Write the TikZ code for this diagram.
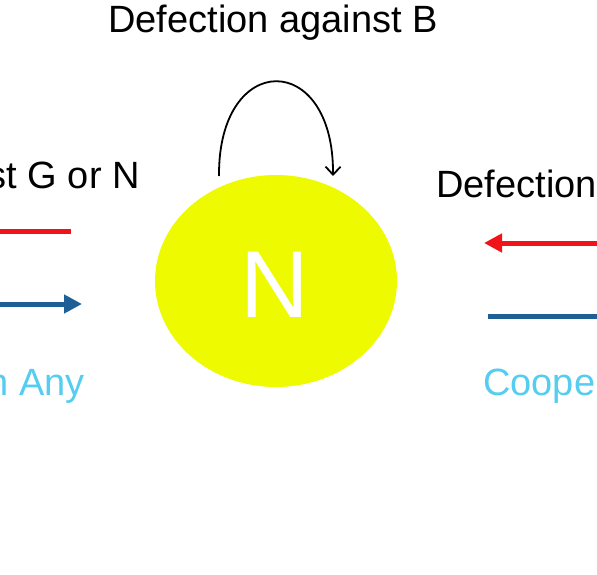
\documentclass[tikz,border=0pt]{standalone}
\usepackage{fontspec}
\setmainfont{Liberation Sans}
\usetikzlibrary{arrows.meta,shapes.geometric}
\definecolor{nyellow}{RGB}{238,250,0}
\definecolor{dred}{RGB}{240,20,25}
\definecolor{cblue}{RGB}{30,95,150}
\definecolor{lcyan}{RGB}{85,205,240}
\begin{document}
\begin{tikzpicture}[x=1pt,y=-1pt,
  lbl/.style={inner sep=0pt,font=\fontsize{38}{44}\selectfont},
  thick5/.style={line width=5pt},
  headtip/.style={-{Triangle[length=18pt,width=18pt]}}]
\useasboundingbox (0,0) rectangle (597,575);
\clip (0,0) rectangle (597,575);
% central node
\node[ellipse,fill=nyellow,minimum width=242pt,minimum height=212pt,inner sep=0pt] (N) at (276,281) {};
\node[inner sep=0pt,text=white,font=\fontsize{95}{100}\selectfont,anchor=base] (Nl) at (275,317) {N};
% top label and loop
\node[lbl,anchor=base west] (top) at (108,33) {Defection against B};
\coordinate (ls) at (219,176);
\coordinate (le) at (333,176);
\draw[line width=1.8pt,-{Straight Barb[length=8pt,width=15pt]}] (ls) .. controls (218,50) and (334,50) .. (le);
% left side
\node[lbl,anchor=base east] (ltext) at (140,188) {Defection against G or N};
\node[lbl,anchor=base east,text=lcyan] (lcoop) at (85,395) {Cooperation with Any};
\coordinate (lr1) at (-10,231);
\coordinate (lr2) at (71,231);
\draw[dred,thick5] (lr1) -- (lr2);
\coordinate (lb1) at (-10,304);
\coordinate (lb2) at (82,304);
\draw[cblue,thick5,headtip] (lb1) -- (lb2);
% right side
\node[lbl,anchor=base west] (rtext) at (436,197) {Defection};
\node[lbl,anchor=base west,text=lcyan] (rcoop) at (483,395) {Cooperation};
\coordinate (rr1) at (610,243);
\coordinate (rr2) at (484,243);
\draw[dred,thick5,headtip] (rr1) -- (rr2);
\coordinate (rb1) at (488,316);
\coordinate (rb2) at (610,316);
\draw[cblue,thick5] (rb1) -- (rb2);
\end{tikzpicture}
\end{document}
